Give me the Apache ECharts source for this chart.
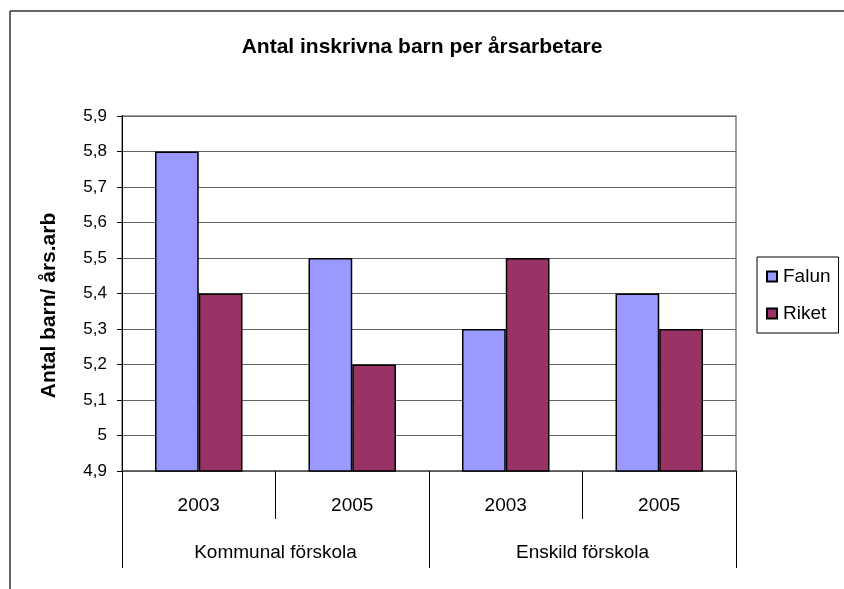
<!DOCTYPE html>
<html>
<head>
<meta charset="utf-8">
<script src="https://cdn.jsdelivr.net/npm/echarts@6/dist/echarts.min.js"></script>
<style>
html,body{margin:0;padding:0;background:#fff;}
#c{width:844px;height:589px;}
</style>
</head>
<body>
<div id="c"></div>
<script>
const years = ['2003', '2005', '2003', '2005'];
const groups = ['Kommunal förskola', 'Enskild förskola'];
const falun = [5.8, 5.5, 5.3, 5.4];
const riket = [5.4, 5.2, 5.5, 5.3];
const seriesNames = ['Falun', 'Riket'];
const yMin = 4.9, yMax = 5.9, yStep = 0.1;

const FONT = '"Liberation Sans", Arial, sans-serif';
const chart = echarts.init(document.getElementById('c'));
chart.setOption({
  animation: false,
  backgroundColor: '#fff',
  title: {
    text: 'Antal inskrivna barn per årsarbetare',
    left: 'center',
    top: 32,
    textStyle: {fontFamily: FONT, fontSize: 21, fontWeight: 'bold', color: '#000'}
  },
  graphic: [
    {type: 'line', shape: {x1: 10, y1: 11, x2: 844, y2: 11}, style: {stroke: '#333', lineWidth: 1.5}},
    {type: 'line', shape: {x1: 10, y1: 11, x2: 10, y2: 589}, style: {stroke: '#333', lineWidth: 1.5}}
  ],
  legend: {
    orient: 'vertical',
    left: 757,
    top: 257,
    padding: [10, 8, 10, 9],
    itemGap: 18,
    itemWidth: 10,
    itemHeight: 10,
    icon: 'rect',
    borderColor: '#000',
    borderWidth: 1,
    textStyle: {fontFamily: FONT, fontSize: 19, color: '#000', padding: [0, 0, 0, 1]},
    data: seriesNames
  },
  grid: {
    left: 122, right: 108, top: 116, bottom: 118,
    show: true, borderColor: '#808080', borderWidth: 1.5, backgroundColor: 'transparent'
  },
  xAxis: [
    {
      type: 'category',
      data: years,
      position: 'bottom',
      axisLine: {lineStyle: {color: '#555', width: 1.5}},
      axisTick: {show: true, interval: 0, length: 48, lineStyle: {color: '#000', width: 1}},
      axisLabel: {interval: 0, margin: 25, fontFamily: FONT, fontSize: 19, color: '#000'}
    },
    {
      type: 'category',
      data: groups,
      position: 'bottom',
      axisLine: {show: false},
      axisTick: {show: true, interval: 0, length: 97, lineStyle: {color: '#000', width: 1}},
      axisLabel: {interval: 0, margin: 72, fontFamily: FONT, fontSize: 19, color: '#000'}
    }
  ],
  yAxis: {
    type: 'value',
    min: yMin, max: yMax, interval: yStep,
    name: 'Antal barn/ års.arb',
    nameLocation: 'middle',
    nameGap: 62,
    nameTextStyle: {fontFamily: FONT, fontSize: 21, fontWeight: 'bold', color: '#000', padding: [0, 24, 0, 0]},
    axisLine: {show: true, lineStyle: {color: '#000', width: 1}},
    axisTick: {show: true, inside: false, length: 5, lineStyle: {color: '#000'}},
    axisLabel: {
      margin: 15, fontFamily: FONT, fontSize: 17, color: '#000',
      formatter: v => String(Math.round(v * 10) / 10).replace('.', ',')
    },
    splitLine: {show: true, lineStyle: {color: '#666', width: 1}}
  },
  series: [
    {
      name: seriesNames[0], type: 'bar', data: falun, xAxisIndex: 0,
      barGap: '0%', barCategoryGap: '43%',
      itemStyle: {color: '#9999FF', borderColor: '#000', borderWidth: 1.5}
    },
    {
      name: seriesNames[1], type: 'bar', data: riket, xAxisIndex: 0,
      barGap: '0%', barCategoryGap: '43%',
      itemStyle: {color: '#993366', borderColor: '#000', borderWidth: 1.5}
    }
  ]
});
</script>
</body>
</html>
